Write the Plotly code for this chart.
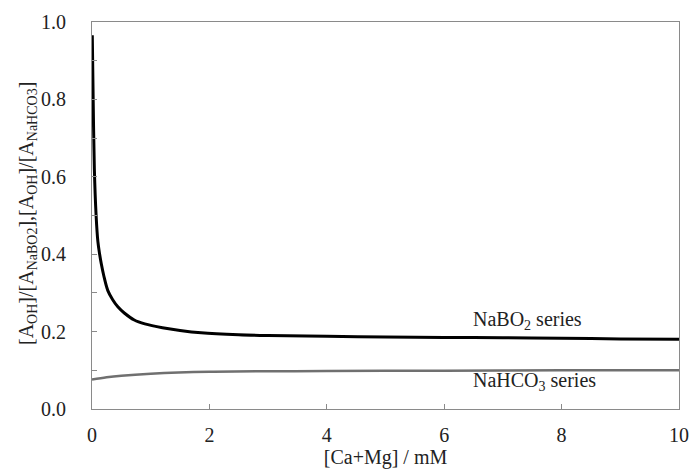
import plotly.graph_objects as go

# [Ca+Mg] concentration (mM) and area ratios for the two series
nabo2_x = [0.005, 0.02, 0.04, 0.07, 0.1, 0.13, 0.16, 0.2, 0.27, 0.35, 0.44, 0.55,
           0.72, 0.9, 1.2, 1.5, 1.86, 2.5, 3.0, 4.0, 5.0, 6.0, 7.0, 8.0, 9.0, 10.0]
nabo2_y = [0.966, 0.80, 0.62, 0.50, 0.433, 0.400, 0.374, 0.345, 0.306, 0.283, 0.264,
           0.248, 0.230, 0.220, 0.210, 0.203, 0.197, 0.192, 0.190, 0.188, 0.186,
           0.185, 0.184, 0.183, 0.181, 0.180]

nahco3_x = [0.0, 0.25, 0.5, 1.0, 2.0, 4.0, 6.0, 8.0, 10.0]
nahco3_y = [0.076, 0.082, 0.086, 0.091, 0.096, 0.098, 0.099, 0.100, 0.100]

x_ticks = [0, 2, 4, 6, 8, 10]
y_ticks = [0.0, 0.2, 0.4, 0.6, 0.8, 1.0]
y_tick_text = ["0.0", "0.2", "0.4", "0.6", "0.8", "1.0"]

FONT = "'Liberation Serif', 'DejaVu Serif', serif"
TEXT = "#222222"
AXIS = "#8a8a8a"

fig = go.Figure()
fig.add_trace(go.Scatter(x=nahco3_x, y=nahco3_y, mode="lines",
                         line=dict(color="#707070", width=2.5, shape="spline"),
                         showlegend=False))
fig.add_trace(go.Scatter(x=nabo2_x, y=nabo2_y, mode="lines",
                         line=dict(color="#000000", width=3, shape="spline", smoothing=1.0),
                         showlegend=False))

# series labels placed beside the curves
fig.add_annotation(x=6.45, y=0.228, text="NaBO<sub>2</sub> series", showarrow=False,
                   xanchor="left", yanchor="middle",
                   font=dict(family=FONT, size=20, color=TEXT))
fig.add_annotation(x=6.45, y=0.071, text="NaHCO<sub>3</sub> series", showarrow=False,
                   xanchor="left", yanchor="middle",
                   font=dict(family=FONT, size=20, color=TEXT))

# rotated y-axis title
fig.add_annotation(xref="paper", yref="paper", x=-0.11, y=0.505, textangle=-90,
                   text="[A<sub>OH</sub>]/[A<sub>NaBO2</sub>],[A<sub>OH</sub>]/[A<sub>NaHCO3</sub>]",
                   showarrow=False, xanchor="center", yanchor="middle",
                   font=dict(family=FONT, size=20, color=TEXT))

fig.update_xaxes(range=[0, 10], tickvals=x_ticks, ticktext=[str(v) for v in x_ticks],
                 ticks="inside", ticklen=5, tickcolor=AXIS, tickwidth=1,
                 showline=True, linecolor=AXIS, linewidth=1, mirror=True,
                 showgrid=False, zeroline=False, ticklabelstandoff=8,
                 tickfont=dict(family=FONT, size=20, color=TEXT),
                 title=dict(text="[Ca+Mg] / mM", standoff=4,
                            font=dict(family=FONT, size=20, color=TEXT)))
fig.update_yaxes(range=[0, 1.0], tickvals=y_ticks, ticktext=y_tick_text,
                 ticks="inside", ticklen=5, tickcolor=AXIS, tickwidth=1,
                 minor=dict(dtick=0.1, ticks="inside", ticklen=5, tickcolor=AXIS),
                 showline=True, linecolor=AXIS, linewidth=1, mirror=True,
                 showgrid=False, zeroline=False, ticklabelstandoff=21,
                 tickfont=dict(family=FONT, size=20, color=TEXT))

fig.update_layout(width=700, height=475, margin=dict(l=92, r=11, t=15, b=64),
                  paper_bgcolor="white", plot_bgcolor="white",
                  font=dict(family=FONT, color=TEXT))

fig.write_html("out.html")
